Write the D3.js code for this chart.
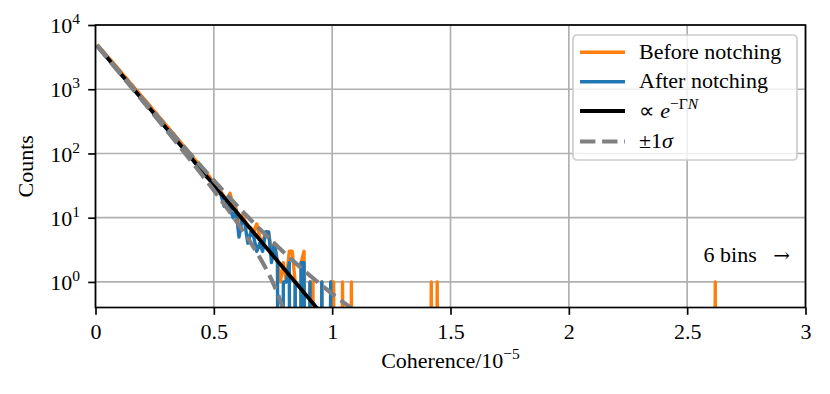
<!DOCTYPE html>
<html>
<head>
<meta charset="utf-8">
<script src="https://cdn.jsdelivr.net/npm/d3@7"></script>
<style>
  body { margin: 0; background: #ffffff; }
  text { font-family: "Liberation Serif", "Times New Roman", serif; fill: #000; }
</style>
</head>
<body>
<div id="chart"></div>
<script>
// histogram bins (coherence in units of 1e-5)
var binWidth = 0.0125;

var beforeCounts = [
	4950, 4400, 3950, 3450, 3080, 2730, 2420, 2130, 1890, 1660,
	1480, 1290, 1150, 1010, 895, 785, 700, 620, 548, 476,
	424, 372, 330, 290, 258, 224, 201, 174, 155, 135,
	122, 104, 95, 81, 73, 63, 57, 49, 44, 37,
	33, 29, 25, 21, 20, 24, 15, 14, 9, 11,
	9, 7, 7, 6, 8, 5, 4, 6, 6, 3,
	4, 2, 1, 2, 1, 3, 3, 1, 0, 2,
	3, 0, 1, 1, 0, 0, 1, 0, 0, 1,
	1, 0, 0, 1, 0, 0, 1, 0
];

var afterCounts = [
	4750, 4200, 3760, 3250, 2900, 2540, 2270, 1960, 1760, 1530,
	1370, 1180, 1060, 920, 820, 715, 640, 555, 495, 430,
	385, 335, 300, 258, 232, 200, 180, 155, 140, 120,
	110, 93, 85, 72, 66, 56, 51, 43, 40, 33,
	30, 27, 22, 15, 19, 14, 10, 13, 5, 9,
	8, 4, 6, 5, 3, 4, 3, 6, 6, 2,
	4, 2, 0, 1, 1, 2, 0, 1, 0, 2,
	2, 0, 1, 0, 0, 0, 1, 0, 0, 1
];

// lone bins far out in the tail (before notching only)
var isolatedCoherence = [1.42, 1.44, 2.62];
var isolatedCounts = [1, 1, 1];

// exponential fit  N = A * 10^(-k x)
var fitAmplitude = 5130;
var fitDecadesPerUnit = 4.40;

var xTicks = [0, 0.5, 1, 1.5, 2, 2.5, 3];
var xTickLabels = ["0", "0.5", "1", "1.5", "2", "2.5", "3"];
var yTicks = [1, 10, 100, 1000, 10000];
var yTickExponents = ["0", "1", "2", "3", "4"];

function drawChart() {
	var width = 830, height = 394;
	var pLeft = 95.5, pRight = 805.5, pTop = 25, pBottom = 307.5;
	var zeroFloor = 1e-12;
	var fontSize = 22;
	var dataWidth = 3.4;

	var svg = d3.select("#chart").append("svg").attr("width", width).attr("height", height);

	var x = d3.scaleLinear().domain([0, 3]).range([pLeft, pRight]);
	var y = d3.scaleLog().domain([0.4, 1e4]).range([pBottom, pTop]);

	svg.append("defs").append("clipPath").attr("id", "plotclip")
		.append("rect").attr("x", pLeft).attr("y", pTop).attr("width", pRight - pLeft).attr("height", pBottom - pTop);

	// grid
	var grid = svg.append("g");
	grid.selectAll(".vg").data(xTicks).enter().append("line")
		.attr("x1", function(d){ return x(d); }).attr("x2", function(d){ return x(d); })
		.attr("y1", pTop).attr("y2", pBottom).style("stroke", "#b0b0b0").style("stroke-width", 1.67);
	grid.selectAll(".hg").data(yTicks).enter().append("line")
		.attr("y1", function(d){ return y(d); }).attr("y2", function(d){ return y(d); })
		.attr("x1", pLeft).attr("x2", pRight).style("stroke", "#b0b0b0").style("stroke-width", 1.67);

	// build the full bin series
	function buildSeries(counts, extraX, extraN) {
		var n = counts.length;
		var maxBin = n;
		var extraBins = [];
		for (var j = 0; j < extraX.length; j++) {
			var b = Math.round(extraX[j] / binWidth - 0.5);
			extraBins.push(b);
			if (b + 2 > maxBin) maxBin = b + 2;
		}
		var vals = [];
		for (var i = 0; i < maxBin; i++) vals.push(i < n ? counts[i] : 0);
		for (var k = 0; k < extraBins.length; k++) vals[extraBins[k]] = extraN[k];
		return vals.map(function(v, i){ return { x: (i + 0.5) * binWidth, n: v }; });
	}

	var beforeSeries = buildSeries(beforeCounts, isolatedCoherence, isolatedCounts);
	var afterSeries = buildSeries(afterCounts.concat([0, 0]), [], []);

	var histLine = d3.line()
		.x(function(d){ return x(d.x); })
		.y(function(d){ return y(d.n > 0 ? d.n : zeroFloor); });

	var plot = svg.append("g").attr("clip-path", "url(#plotclip)");

	plot.append("path").datum(beforeSeries).attr("d", histLine)
		.style("fill", "none").style("stroke", "#ff7f0e").style("stroke-width", dataWidth).style("stroke-linejoin", "round");
	plot.append("path").datum(afterSeries).attr("d", histLine)
		.style("fill", "none").style("stroke", "#1f77b4").style("stroke-width", dataWidth).style("stroke-linejoin", "round");

	// fit and +-1 sigma (poisson) curves
	function fitValue(c) { return fitAmplitude * Math.pow(10, -fitDecadesPerUnit * c); }
	var fitXs = d3.range(binWidth / 2, 1.2, 0.002);
	var fitPts = fitXs.map(function(c){ return { x: c, n: fitValue(c) }; });
	var upperPts = fitXs.map(function(c){ var f = fitValue(c); return { x: c, n: f + Math.sqrt(f) }; });
	var lowerPts = fitXs.map(function(c){ var f = fitValue(c); return { x: c, n: f - Math.sqrt(f) }; });

	plot.append("path").datum(fitPts).attr("d", histLine)
		.style("fill", "none").style("stroke", "#000").style("stroke-width", 3.8);
	plot.append("path").datum(upperPts).attr("d", histLine)
		.style("fill", "none").style("stroke", "#808080").style("stroke-width", 4.17).style("stroke-dasharray", "15.4,6.7");
	plot.append("path").datum(lowerPts.filter(function(d){ return d.n > 0.05; })).attr("d", histLine)
		.style("fill", "none").style("stroke", "#808080").style("stroke-width", 4.17).style("stroke-dasharray", "15.4,6.7");

	// axes
	var xAxis = svg.append("g").attr("transform", "translate(0," + pBottom + ")")
		.call(d3.axisBottom(x).tickValues(xTicks).tickSize(7.3).tickPadding(0).tickFormat(function(d, i){ return xTickLabels[i]; }));
	xAxis.select(".domain").remove();
	xAxis.selectAll(".tick line").style("stroke", "#000").style("stroke-width", 1.67);
	xAxis.selectAll(".tick text").attr("y", 31.5).attr("dy", null)
		.style("font-size", fontSize + "px").style("font-family", "Liberation Serif");

	var yAxis = svg.append("g").attr("transform", "translate(" + pLeft + ",0)")
		.call(d3.axisLeft(y).tickValues(yTicks).tickSize(7.3).tickFormat(function(){ return ""; }));
	yAxis.select(".domain").remove();
	yAxis.selectAll(".tick line").style("stroke", "#000").style("stroke-width", 1.67);
	yAxis.selectAll(".tick text").each(function(d, i) {
		var t = d3.select(this).attr("x", -15.5).attr("dy", null).attr("y", 7.7)
			.style("font-family", "Liberation Serif").style("text-anchor", "end");
		t.append("tspan").style("font-size", fontSize + "px").text("10");
		t.append("tspan").attr("dy", -9).style("font-size", "15.5px").text(yTickExponents[i]);
	});

	// spines
	svg.append("rect").attr("x", pLeft).attr("y", pTop).attr("width", pRight - pLeft).attr("height", pBottom - pTop)
		.style("fill", "none").style("stroke", "#000").style("stroke-width", 1.67);

	// axis labels
	var xl = svg.append("text").attr("x", (pLeft + pRight) / 2).attr("y", 368).style("text-anchor", "middle").style("font-size", fontSize + "px");
	xl.append("tspan").text("Coherence/10");
	xl.append("tspan").attr("dy", -9).style("font-size", "15.5px").text("\u22125");

	svg.append("text").attr("transform", "translate(33," + ((pTop + pBottom) / 2) + ") rotate(-90)")
		.style("text-anchor", "middle").style("font-size", fontSize + "px").text("Counts");

	var note = svg.append("text").attr("x", 790).attr("y", 262).style("text-anchor", "end").style("font-size", fontSize + "px");
	note.append("tspan").text("6 bins \u00a0\u00a0");
	note.append("tspan").style("font-family", "DejaVu Serif").style("font-size", "20px").text("\u2192");

	// legend
	var legend = svg.append("g");
	legend.append("rect").attr("x", 573).attr("y", 35).attr("width", 224).attr("height", 125).attr("rx", 4)
		.style("fill", "#fff").style("fill-opacity", 0.8).style("stroke", "#cccccc").style("stroke-width", 1.67);

	var legendRows = [52.3, 81.7, 111, 141.5];
	var legendStyles = [
		{ color: "#ff7f0e", w: dataWidth, dash: null },
		{ color: "#1f77b4", w: dataWidth, dash: null },
		{ color: "#000", w: 3.8, dash: null },
		{ color: "#808080", w: 4.17, dash: "15.4,6.7" }
	];
	legendRows.forEach(function(ry, i) {
		var s = legendStyles[i];
		var l = legend.append("line").attr("x1", 580).attr("x2", 625).attr("y1", ry).attr("y2", ry)
			.style("stroke", s.color).style("stroke-width", s.w);
		if (s.dash) l.style("stroke-dasharray", s.dash);
	});

	legend.append("text").attr("x", 639).attr("y", legendRows[0] + 6.5).style("font-size", fontSize + "px").text("Before notching");
	legend.append("text").attr("x", 639).attr("y", legendRows[1] + 6.5).style("font-size", fontSize + "px").text("After notching");
	var lt = legend.append("text").attr("x", 639).attr("y", legendRows[2] + 6.5).style("font-size", fontSize + "px");
	lt.append("tspan").style("font-family", "DejaVu Sans").style("font-size", "22px").text("\u221d");
	lt.append("tspan").text(" ");
	lt.append("tspan").style("font-style", "italic").text("e");
	lt.append("tspan").attr("dy", -9).style("font-size", "15.5px").text("\u2212\u0393");
	lt.append("tspan").style("font-size", "15.5px").style("font-style", "italic").text("N");
	var ls = legend.append("text").attr("x", 639).attr("y", legendRows[3] + 6.5).style("font-size", fontSize + "px");
	ls.append("tspan").text("\u00b11");
	ls.append("tspan").style("font-style", "italic").text("\u03c3");
}

drawChart();
</script>
</body>
</html>
